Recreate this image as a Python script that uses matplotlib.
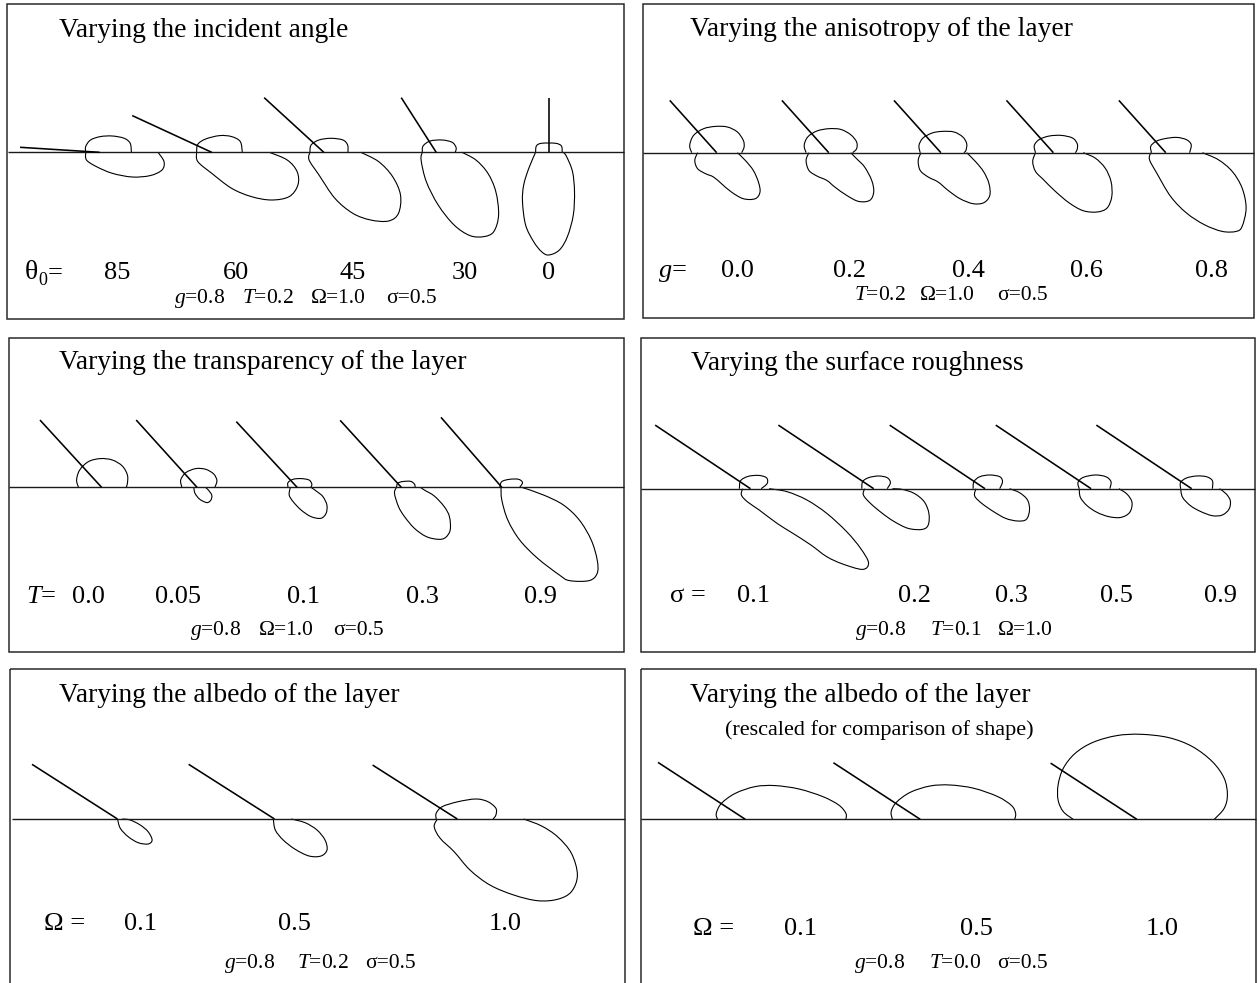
import numpy as np
import matplotlib
matplotlib.use("Agg")
import matplotlib.pyplot as plt
from matplotlib.path import Path
from matplotlib.patches import PathPatch, Rectangle

plt.rcParams["font.family"] = ["Liberation Serif", "DejaVu Serif"]
plt.rcParams["mathtext.fontset"] = "custom"
plt.rcParams["mathtext.rm"] = "Liberation Serif"
plt.rcParams["mathtext.it"] = "Liberation Serif:italic"
plt.rcParams["mathtext.bf"] = "Liberation Serif:bold"

# ======================= DATA =======================
# Scattering patterns: (dx, dy) offsets of the polar radiance curve from the
# point of incidence (dy > 0 above the surface = reflected, dy < 0 = transmitted)

# ---- Panel 1: varying the incident angle
theta0_values = ["85", "60", "45", "30", "0"]
theta0_beam_angle = [86.4, 65.2, 47.5, 32.6, 0.0]   # deg from vertical (as drawn)
theta0_beam_len = [79.7, 87.6, 80.9, 64.9, 54.7]
theta0_refl = [
    [(-13.9, 0), (-13.9, 5.7), (-9.1, 12.3), (0.8, 15.7), (12.7, 16.3), (24.6, 14), (30.6, 9), (31.8, 0)],
    [(-15.1, 0), (-13.9, 8), (-6, 13.3), (8, 16.7), (19.9, 15.7), (28.6, 10.7), (30.6, 0)],
    [(-13.9, 0), (-12.7, 7.3), (-4.8, 12.3), (7.2, 14), (19.1, 12.3), (23.8, 7.3), (24.2, 0)],
    [(-13.9, 0), (-13.1, 6.3), (-6, 11.3), (6, 12.3), (15.9, 10), (19.9, 4.7), (19.1, 0)],
    [(-13.1, 0), (-12.3, 6.3), (-7.2, 9), (6.8, 9), (12.7, 6.3), (13.5, 0)],
]
theta0_trans = [
    [(-13.9, 0), (-13.1, -7.7), (-3.2, -14.3), (12.7, -21), (32.6, -24.7), (50.5, -23.3),
     (62.4, -17.7), (64.4, -9.3), (58.4, 0)],
    [(-15.1, 0), (-13.9, -9.3), (0, -21), (19.9, -36), (39.7, -44.3), (59.6, -47.7), (77.5, -44.3),
     (86.2, -32.7), (85.4, -19.3), (75.5, -7.7), (57.6, 0)],
    [(-13.9, 0), (-14.7, -7.7), (-4.8, -22.7), (11.1, -46), (29, -61), (46.9, -67.7), (64.8, -68.7),
     (74.7, -61), (76.7, -42.7), (68.8, -24.3), (54.8, -9.3), (37, 0)],
    [(-13.9, 0), (-15.1, -7.7), (-9.9, -29.3), (2, -52.7), (17.9, -72.7), (33.8, -83.3), (47.7, -84.3),
     (57.6, -79.3), (62.4, -62.7), (59.6, -39.3), (51.7, -21), (39.7, -7.7), (25.8, 0)],
    [(-13.1, 0), (-19.9, -16), (-25, -32.7), (-26.2, -49.3), (-23.1, -72.7), (-15.1, -89.3),
     (-7.2, -99.3), (0, -102.7), (10.7, -97.7), (18.7, -84.3), (24.6, -62.7), (25.8, -39.3),
     (23.8, -19.3), (17.9, -4.3), (14.7, 0)],
]

# ---- Panel 2: varying the anisotropy g
g_values = ["0.0", "0.2", "0.4", "0.6", "0.8"]
g_beam_angle = [41.9] * 5
g_beam_len = [70.3] * 5
g_refl = [
    [(-25, 0), (-27, 7.3), (-23.1, 17.3), (-13.1, 24), (-1.2, 26.3), (10.7, 25.7), (20.7, 20.7),
     (26.6, 12.3), (27.4, 5.7), (25, 0)],
    [(-22.7, 0), (-24.6, 7.3), (-21.1, 15.7), (-11.9, 21.7), (0, 24), (11.9, 23.3), (21.9, 18),
     (27.8, 10.7), (27.8, 4), (23.8, 0)],
    [(-20.7, 0), (-21.9, 7.3), (-17.9, 14.7), (-8.7, 19.7), (1.2, 21.3), (13.1, 20.7), (21.9, 15.7),
     (25.8, 9), (25, 2.3), (23, 0)],
    [(-17.9, 0), (-19.1, 7.3), (-13.9, 13.3), (-4, 16.7), (7.9, 17.3), (19.1, 14.7), (23.8, 9),
     (23.8, 3.3), (21.9, 0)],
    [(-14.3, 0), (-15.1, 6.3), (-9.9, 11.3), (-1.2, 14), (10.7, 15.3), (20.7, 13), (25.4, 8), (23.8, 0)],
]
g_trans = [
    [(-19.1, 0), (-21.9, -7.7), (-19.1, -16), (-11.1, -21), (-3.2, -24.3), (4.8, -31), (14.7, -39.3),
     (26.6, -46), (38.6, -46), (43.3, -39.3), (41.7, -29.3), (36.6, -17.7), (28.6, -7.7), (20.7, 0)],
    [(-19.9, 0), (-22.7, -7.7), (-19.9, -17.7), (-11.9, -23.3), (-2, -27.7), (6, -34.3), (17.9, -42.7),
     (29.8, -48.7), (40.9, -47.7), (44.9, -39.3), (42.9, -27.7), (35.8, -14.3), (27.8, -6), (21.9, 0)],
    [(-19.9, 0), (-22.7, -7.7), (-20.7, -17.7), (-12.7, -24.3), (-2.8, -29.3), (7.2, -37.7), (19.1, -46),
     (32.2, -51), (42.9, -50), (48.9, -42.7), (48.1, -31), (42.9, -19.3), (35, -9.3), (25.8, 0)],
    [(-17.9, 0), (-20.7, -8.7), (-17.9, -18.7), (-9.9, -27), (2, -38.7), (15.9, -50.3), (29.8, -58),
     (43.7, -59.3), (53.7, -55.3), (58.4, -43.7), (57.6, -28.7), (51.7, -15.3), (41.7, -5.3), (29.8, 0)],
    [(-15.1, 0), (-16.3, -7), (-9.1, -20.3), (4.8, -43.7), (20.7, -60.3), (38.6, -72), (56.4, -78.7),
     (70.4, -78.7), (76.3, -73.7), (80.3, -55.3), (76.3, -35.3), (66.4, -18.7), (52.5, -7), (36.6, 0)],
]

# ---- Panel 3: varying the transparency T
T_values = ["0.0", "0.05", "0.1", "0.3", "0.9"]
T_beam_angle = [42.5, 42.1, 42.8, 42.4, 41.0]
T_beam_len = [91.2, 90.7, 89.5, 90.7, 92.7]
T_refl = [
    [(-23.1, 0), (-25, 7.3), (-21.9, 17.3), (-13.1, 25.7), (-1.2, 28.7), (10.7, 27.3), (20.7, 21.3),
     (25.8, 12.3), (25.8, 4), (24.6, 0)],
    [(-15.1, 0), (-16.3, 7.3), (-11.1, 14.7), (-1.2, 18.7), (8.7, 18), (16.7, 13.3), (19.9, 6.7), (17.9, 0)],
    [(-9.1, 0), (-9.1, 4.7), (-4, 8), (4, 8.7), (11.9, 7.3), (14.7, 3.3), (13.9, 0)],
    [(-4.8, 0), (-3.6, 4), (1.2, 5.7), (9.1, 6), (13.1, 3.3), (13.9, 0)],
    [(-2, 0), (0, 5.7), (7.9, 8), (16.7, 8), (20.7, 4.7), (17.9, 0)],
]
T_trans = [
    [],
    [(-3.2, 0), (-2, -6), (2.8, -12), (9.9, -15.3), (13.9, -12.7), (14.7, -7.7), (10.7, -2), (8, 0)],
    [(-6.8, 0), (-7.9, -7.7), (-4, -14.3), (4, -22.7), (13.9, -29.3), (23.8, -31), (29, -26),
     (29.8, -17.7), (25.8, -9.3), (19.9, -4.3), (13.9, 0)],
    [(-4.8, 0), (-6.8, -6), (-2.8, -19.3), (3.2, -29.3), (13.1, -41), (25, -49.3), (37, -52),
     (44.1, -50.3), (48.9, -42.7), (48.1, -29.3), (42.9, -19.3), (33, -8.7), (23, -2.7), (19.1, 0)],
    [(-0.8, 0), (0, -12.7), (6, -32.7), (17.9, -52.7), (35.8, -71), (57.6, -87.7), (67.6, -93.3),
     (87.4, -93.3), (95.4, -86), (95.4, -72.7), (89.4, -52.7), (77.5, -32.7), (61.6, -17.7),
     (41.7, -7.7), (19.9, 0)],
]

# ---- Panel 4: varying the surface roughness sigma
sigma_values = ["0.1", "0.2", "0.3", "0.5", "0.9"]
sigma_beam_angle = [56.3] * 5
sigma_beam_len = [114.6] * 5
sigma_refl = [
    [(-11.1, 0), (-9.9, 8), (-2.4, 12.3), (7.9, 13.3), (15.9, 11), (16.7, 5.3), (10.7, 0)],
    [(-11.9, 0), (-11.1, 7), (-5.2, 11), (4.8, 12.7), (13.5, 11), (16.7, 6), (13.5, 0)],
    [(-11.9, 0), (-11.1, 7), (-5.2, 12), (4.8, 13.7), (14.7, 12), (17.5, 7), (14.7, 0)],
    [(-11.9, 0), (-13.1, 6.3), (-7.9, 11.3), (4, 13.7), (14.7, 12), (19.9, 7), (18.7, 0)],
    [(-11.1, 0), (-11.1, 6.3), (-5.2, 10.7), (4.8, 12.7), (14.7, 12), (20.7, 8), (20.7, 0)],
]
sigma_trans = [
    [(-7.9, 0), (-9.1, -6.3), (-3.2, -13), (8.7, -21.3), (26.6, -34.7), (42.5, -44.7), (60.4, -56.3),
     (76.3, -68), (92.2, -75.3), (112.1, -80.7), (118, -74), (110.1, -59.7), (96.2, -43),
     (76.3, -24.7), (56.4, -11.3), (36.6, -3), (18.7, 0)],
    [(-9.1, 0), (-10.3, -6.3), (-3.2, -14.7), (8.7, -24.7), (20.7, -33), (34.6, -39.7), (48.5, -40.7),
     (54.5, -36.3), (55.2, -24.7), (50.5, -13), (40.5, -4.7), (28.6, -0.7), (18.7, 0)],
    [(-9.1, 0), (-10.3, -7.3), (-3.2, -14.7), (8.7, -23), (20.7, -29.7), (32.6, -32.3), (41.3, -30.7),
     (44.5, -21.3), (42.5, -11.3), (34.6, -4), (24.6, 0)],
    [(-11.9, 0), (-10.7, -8.7), (-4, -17), (6, -23.7), (17.9, -28), (29.8, -28.7), (38.6, -23.7),
     (40.9, -13.7), (35.8, -5.3), (27.8, 0)],
    [(-11.1, 0), (-9.1, -8.7), (-1.2, -17), (8.7, -22.7), (20.7, -27), (30.6, -26.3), (37.4, -20.3),
     (38.6, -12), (34.6, -5.3), (27.8, 0)],
]

# ---- Panel 5: varying the albedo Omega
omega_values = ["0.1", "0.5", "1.0"]
omega_beam_angle = [57.4, 57.5, 57.5]
omega_beam_len = [101.5, 101.8, 100.4]
omega_refl = [
    [],
    [],
    [(-21.1, 0), (-21.1, 5.7), (-15.1, 12.3), (0.8, 17.3), (18.7, 20), (30.6, 17.3), (38.6, 10.7),
     (38.6, 4), (35.8, 0)],
]
omega_trans = [
    [(0, 0), (2.8, -9.3), (10.7, -17.7), (20.7, -23.7), (30.6, -25), (34.6, -21), (30.6, -12.7),
     (22.7, -6), (12.7, -1), (4.8, 0)],
    [(-1.2, 0), (0.8, -11), (8.7, -21), (20.7, -30.3), (34.6, -37), (46.5, -37), (52.5, -31),
     (50.5, -21), (42.5, -11), (30.6, -3.7), (16.7, 0)],
    [(-19.9, 0), (-23.1, -7.7), (-17.1, -19.3), (-3.2, -32.7), (12.7, -51), (32.6, -66), (56.4, -76),
     (80.3, -81.7), (100.2, -80.3), (114.1, -72.7), (120.1, -56), (114.1, -34.3), (100.2, -17.7),
     (84.3, -7), (66.4, 0)],
]

# ---- Panel 6: albedo, rescaled (T = 0, reflection only)
omega_r_values = ["0.1", "0.5", "1.0"]
omega_r_beam_angle = [56.9, 56.9, 56.9]
omega_r_beam_len = [104.2, 103.6, 102.9]
omega_r_refl = [
    [(-27.8, 0), (-29, 6), (-23.8, 16), (-9.9, 26), (9.9, 32.7), (29.8, 33.7), (53.7, 30.3),
     (77.5, 22.7), (93.4, 14.3), (100.6, 6), (100.6, 0)],
    [(-27.8, 0), (-29, 7.7), (-23.8, 17), (-9.9, 27), (9.9, 33.3), (29.8, 34.3), (53.7, 31),
     (77.5, 22.7), (91.4, 13.7), (95.4, 6), (94.6, 0)],
    [(-63.6, 0), (-73.5, 7.7), (-78.7, 19.3), (-78.7, 34.3), (-73.5, 51), (-61.6, 66), (-43.7, 77),
     (-19.9, 83.7), (4, 85), (31.8, 81.7), (55.6, 72.7), (75.5, 57.7), (87.4, 41), (90.6, 24.3),
     (87.4, 11), (77.5, 0)],
]
omega_r_trans = [[], [], []]

# ======================= LAYOUT (pixel units) =======================
panels = [
    dict(box=(6.5, 4, 624, 319), hz=(8, 624, 152.3), title="Varying the incident angle",
         title_xy=(58.6, 37.3), ox=[99.6, 211.7, 323.8, 436.2, 548.7],
         ang=theta0_beam_angle, L=theta0_beam_len, refl=theta0_refl, trans=theta0_trans,
         sym=None, values=theta0_values, vx=[117, 236, 353, 465, 548.5], vy=279,
         params=["$g$=0.8", "$T$=0.2", "Ω=1.0", "σ=0.5"], px=[173.7, 242, 311, 386], py=302.7),
    dict(box=(643, 4, 1254, 318), hz=(643, 1254, 152.7), title="Varying the anisotropy of the layer",
         title_xy=(689.8, 36), ox=[716.7, 828.8, 940.9, 1053.4, 1165.8],
         ang=g_beam_angle, L=g_beam_len, refl=g_refl, trans=g_trans,
         sym=("$g$=", 657.5), values=g_values, vx=[737, 850, 968.5, 1086.4, 1211.6], vy=277,
         params=["$T$=0.2", "Ω=1.0", "σ=0.5"], px=[854, 920, 997.5], py=300),
    dict(box=(9, 338, 624, 652), hz=(9, 624, 487.3), title="Varying the transparency of the layer",
         title_xy=(58.6, 369.3), ox=[101.6, 197, 297.1, 401.3, 501.8],
         ang=T_beam_angle, L=T_beam_len, refl=T_refl, trans=T_trans,
         sym=("$T$=", 26.3), values=T_values, vx=[88, 177.7, 303, 422, 540.4], vy=603.3,
         params=["$g$=0.8", "Ω=1.0", "σ=0.5"], px=[190, 258.5, 333], py=635),
    dict(box=(641.3, 338, 1255, 652), hz=(641.3, 1255, 488.7), title="Varying the surface roughness",
         title_xy=(690.6, 370), ox=[750.5, 873.7, 985, 1091.1, 1191.7],
         ang=sigma_beam_angle, L=sigma_beam_len, refl=sigma_refl, trans=sigma_trans,
         sym=("σ =", 670.4), values=sigma_values, vx=[753, 914.7, 1011.7, 1116.7, 1220.5], vy=601.7,
         params=["$g$=0.8", "$T$=0.1", "Ω=1.0"], px=[855.4, 929.7, 998.3], py=635),
    dict(box=(10, 669.3, 625, 995), hz=(12, 625, 819), title="Varying the albedo of the layer",
         title_xy=(58.6, 701.7), ox=[117.5, 274.5, 457.3],
         ang=omega_beam_angle, L=omega_beam_len, refl=omega_refl, trans=omega_trans,
         sym=("Ω =", 43.6), values=omega_values, vx=[140.5, 294.8, 504.8], vy=930,
         params=["$g$=0.8", "$T$=0.2", "σ=0.5"], px=[224, 297, 365.5], py=968.3),
    dict(box=(641.3, 669.3, 1256, 995), hz=(641.3, 1256, 819.3), title="Varying the albedo of the layer",
         title_xy=(689.8, 701.7), ox=[745.3, 920.2, 1136.8],
         ang=omega_r_beam_angle, L=omega_r_beam_len, refl=omega_r_refl, trans=omega_r_trans,
         sym=("Ω =", 692.6), values=omega_r_values, vx=[800.8, 976, 1162.3], vy=935,
         params=["$g$=0.8", "$T$=0.0", "σ=0.5"], px=[854, 929, 997.5], py=968.3),
]

TITLE_FS = 19.8
VALUE_FS = 19
PARAM_FS = 15.5


def smooth_path(pts):
    """Catmull-Rom curve through the read points, drawn as cubic Beziers."""
    P = np.asarray(pts, float)
    ext = np.vstack([P[0], P, P[-1]])
    verts = [P[0]]
    codes = [Path.MOVETO]
    for i in range(len(P) - 1):
        p0, p1, p2, p3 = ext[i], ext[i + 1], ext[i + 2], ext[i + 3]
        verts += [p1 + (p2 - p0) / 6.0, p2 - (p3 - p1) / 6.0, p2]
        codes += [Path.CURVE4] * 3
    return Path(verts, codes)


fig = plt.figure(figsize=(12.6, 9.83), dpi=100)
ax = fig.add_axes([0, 0, 1, 1])
ax.set_xlim(0, 1260)
ax.set_ylim(983, 0)
ax.axis("off")

for p in panels:
    x0, y0, x1, y1 = p["box"]
    ax.add_patch(Rectangle((x0, y0), x1 - x0, y1 - y0, fill=False, ec="#2a2a2a", lw=1.1))
    hx0, hx1, hy = p["hz"]
    ax.plot([hx0, hx1], [hy, hy], color="#1a1a1a", lw=1.0, solid_capstyle="butt")
    ax.text(p["title_xy"][0], p["title_xy"][1], p["title"], fontsize=TITLE_FS,
            ha="left", va="baseline")
    for i, ox in enumerate(p["ox"]):
        a = np.radians(p["ang"][i])
        L = p["L"][i]
        ax.plot([ox - L * np.sin(a), ox], [hy - L * np.cos(a), hy], color="black", lw=1.15,
                solid_capstyle="butt")
        for curve in (p["refl"][i], p["trans"][i]):
            if len(curve) < 2:
                continue
            pts = [(ox + dx, hy - dy) for dx, dy in curve]
            ax.add_patch(PathPatch(smooth_path(pts), fill=False, ec="black", lw=0.8))
    # labels
    for v, vx in zip(p["values"], p["vx"]):
        ax.text(vx, p["vy"], v, fontsize=VALUE_FS, ha="center", va="baseline")
    if p["sym"] is not None:
        ax.text(p["sym"][1], p["vy"], p["sym"][0], fontsize=VALUE_FS, ha="left", va="baseline")
    for s, sx in zip(p["params"], p["px"]):
        ax.text(sx, p["py"], s, fontsize=PARAM_FS, ha="left", va="baseline")

# theta_0 label of panel 1
ax.text(25, 279, "θ", fontsize=VALUE_FS + 1, ha="left", va="baseline")
ax.text(38.5, 285, "0", fontsize=13, ha="left", va="baseline")
ax.text(47.5, 279, "=", fontsize=VALUE_FS, ha="left", va="baseline")

# subtitle of panel 6
ax.text(725, 735, "(rescaled for comparison of shape)", fontsize=16, ha="left", va="baseline")

fig.savefig("out.png", dpi=100)
